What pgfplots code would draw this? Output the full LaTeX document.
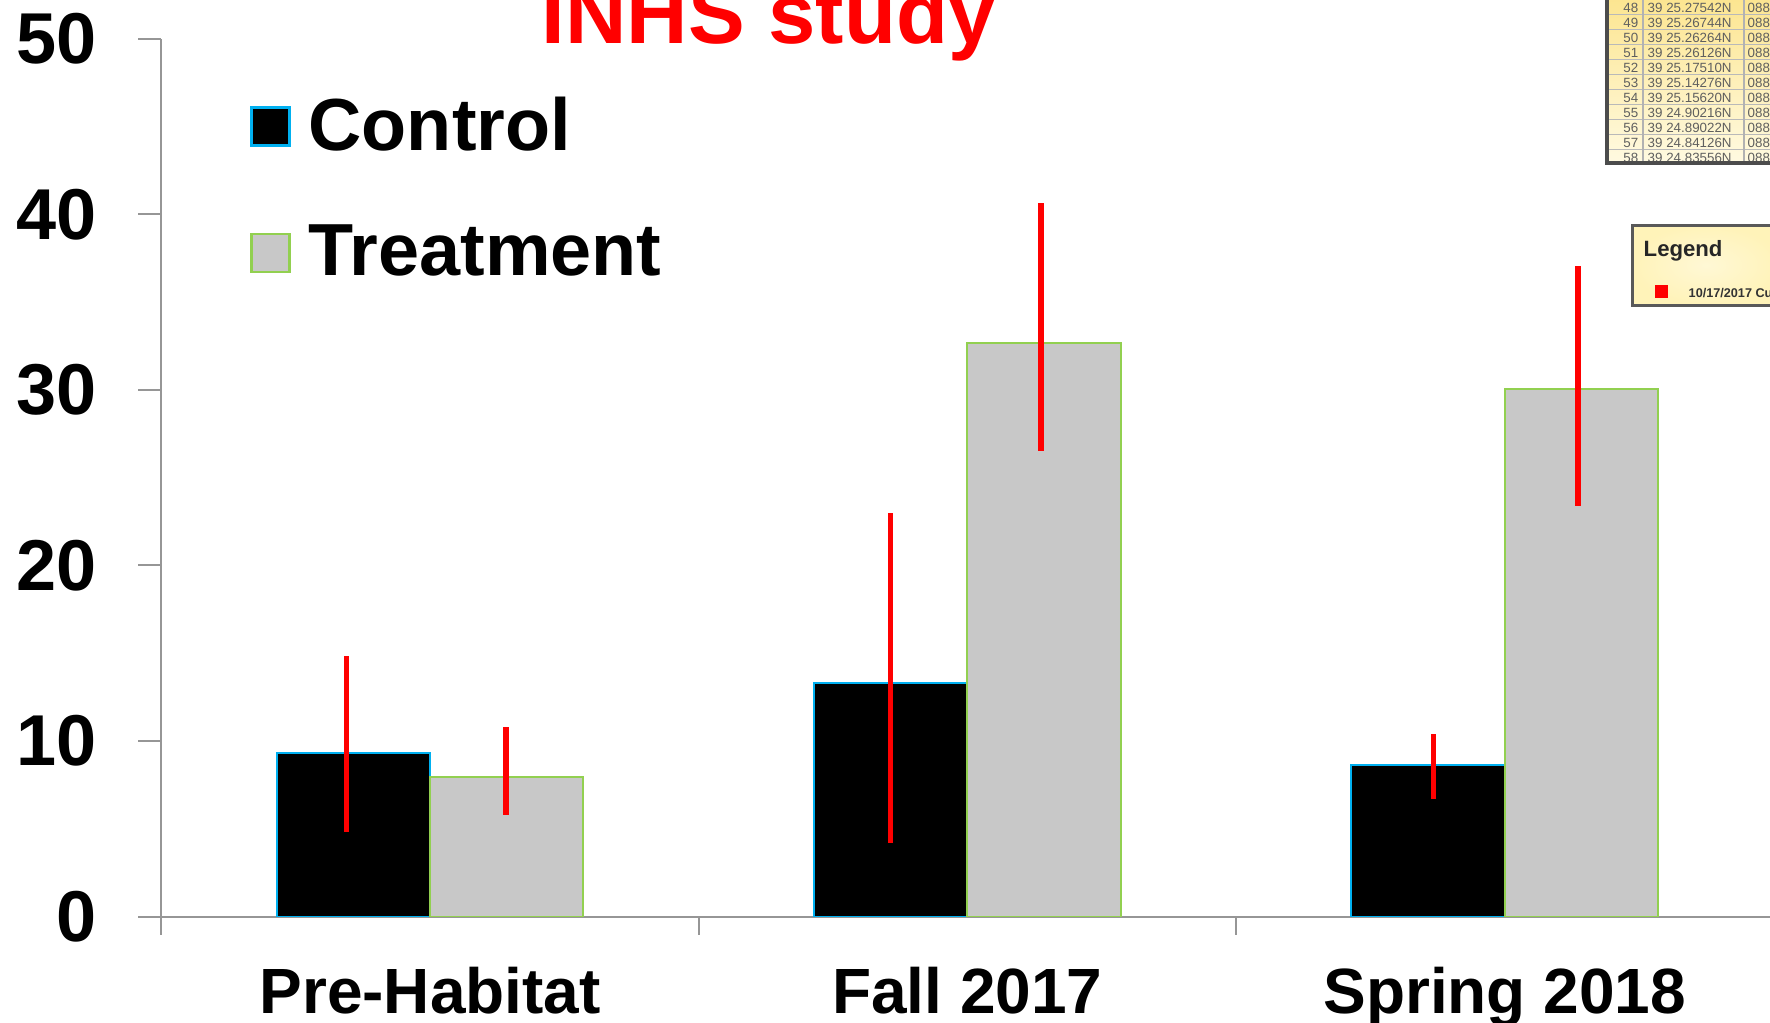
\documentclass[border=0pt]{standalone}
\usepackage{fontspec}
\setmainfont{Liberation Sans}
\usepackage{pgfplots}
\pgfplotsset{compat=1.18}
\definecolor{ctrlborder}{RGB}{0,176,240}
\definecolor{trtfill}{RGB}{200,200,200}
\definecolor{trtborder}{RGB}{146,208,80}
\definecolor{axgray}{RGB}{150,150,150}
\definecolor{errred}{RGB}{255,0,0}
\definecolor{tabtxt}{RGB}{95,95,95}
\definecolor{tyel1}{RGB}{252,228,140}
\definecolor{tyel2}{RGB}{255,250,225}
\definecolor{lyel}{RGB}{255,243,185}
\begin{document}
\begin{tikzpicture}
\useasboundingbox (0,0) rectangle (177mm,-102.2mm);
\begin{axis}[
  at={(16.14mm,-91.66mm)}, anchor=south west,
  scale only axis, width=161.2mm, height=87.8mm,
  xmin=-0.5, xmax=2.5, ymin=0, ymax=50,
  axis x line=bottom, axis y line=left,
  axis line style={-, axgray, line width=0.2mm},
  tick style={axgray, line width=0.2mm},
  tick align=outside,
  ytick={0,10,...,50},
  major tick length=2.3mm,
  xtick={0,1,2},
  xticklabels={Pre-Habitat, Fall 2017, Spring 2018},
  major x tick style={draw=none},
  minor xtick={-0.5,0.5,1.5,2.5},
  minor tick length=1.8mm,
  /pgf/number format/assume math mode=true,
  yticklabel style={font=\bfseries\fontsize{20.5}{20.5}\selectfont, inner sep=0pt, xshift=-4.07mm},
  xticklabel style={font=\bfseries\fontsize{18.2}{18.2}\selectfont, anchor=base, inner sep=0pt, yshift=-7.4mm},
  legend style={at={(0.0546,0.934)}, anchor=north west, draw=none, fill=none,
    font=\bfseries\fontsize{21}{21}\selectfont, row sep=6.9mm, inner sep=0pt,
    nodes={inner sep=0pt},
    /tikz/every odd column/.append style={column sep=1.8mm}},
  legend cell align=left,
]
\addplot[ybar, bar width=0.2853, bar shift=-0.14265, fill=black, draw=ctrlborder, line width=0.2mm,
  /pgfplots/legend image code/.code={\draw[fill=black, draw=ctrlborder, line width=0.25mm] (0mm,-1.9mm) rectangle (3.8mm,1.9mm);}]
  coordinates {(0,9.30) (1,13.31) (2,8.62)};
\addlegendentry{Control}
\addplot[ybar, bar width=0.2853, bar shift=0.14265, fill=trtfill, draw=trtborder, line width=0.2mm,
  /pgfplots/legend image code/.code={\draw[fill=trtfill, draw=trtborder, line width=0.25mm] (0mm,-1.9mm) rectangle (3.8mm,1.9mm);}]
  coordinates {(0,7.97) (1,32.65) (2,30.02)};
\addlegendentry{Treatment}
% error bars (mean +upper -lower), drawn over the bars
\addplot[draw=none, mark=none, forget plot,
  error bars/.cd, y dir=both, y explicit, error mark=none,
  error bar style={draw=errred, line width=0.56mm}]
  coordinates {
  (-0.1555,9.30) += (0,5.54) -= (0,4.46)
  (0.8571,13.31) += (0,9.70) -= (0,9.13)
  (1.8676,8.62) += (0,1.80) -= (0,1.93)
  };
\addplot[draw=none, mark=none, forget plot,
  error bars/.cd, y dir=both, y explicit, error mark=none,
  error bar style={draw=errred, line width=0.56mm}]
  coordinates {
  (0.1408,7.97) += (0,2.81) -= (0,2.18)
  (1.1366,32.65) += (0,7.98) -= (0,6.16)
  (2.1366,30.02) += (0,7.01) -= (0,6.62)
  };
\end{axis}
% title
\node[anchor=base, text=errred, font=\bfseries\fontsize{24.2}{24.2}\selectfont, inner sep=0pt] at (76.87mm,-4.33mm) {INHS study};
% inset table (top right)
\shade[top color=tyel1, bottom color=tyel2] (160.7mm,1mm) rectangle (178mm,-16.3mm);
\foreach \i in {0,...,9} {\draw[gray!55, line width=0.1mm] (160.7mm,{-(1.45+1.5*\i)*1mm}) -- (178mm,{-(1.45+1.5*\i)*1mm});}
\draw[gray!60, line width=0.12mm] (164.3mm,1mm) -- (164.3mm,-16.3mm);
\draw[gray!60, line width=0.12mm] (174.4mm,1mm) -- (174.4mm,-16.3mm);
\foreach \i/\n/\c in {0/48/39 25.27542N, 1/49/39 25.26744N, 2/50/39 25.26264N, 3/51/39 25.26126N,
  4/52/39 25.17510N, 5/53/39 25.14276N, 6/54/39 25.15620N, 7/55/39 24.90216N,
  8/56/39 24.89022N, 9/57/39 24.84126N, 10/58/39 24.83556N} {
  \node[anchor=east, inner sep=0pt, text=tabtxt, font=\fontsize{3.8}{3.8}\selectfont] at (163.9mm,{-(0.75+1.5*\i)*1mm}) {\n};
  \node[anchor=west, inner sep=0pt, text=tabtxt, font=\fontsize{3.8}{3.8}\selectfont] at (164.7mm,{-(0.75+1.5*\i)*1mm}) {\c};
  \node[anchor=west, inner sep=0pt, text=tabtxt, font=\fontsize{3.8}{3.8}\selectfont] at (174.7mm,{-(0.75+1.5*\i)*1mm}) {088 4};
}
\draw[black!70, line width=0.35mm] (160.7mm,1mm) -- (160.7mm,-16.3mm) -- (178mm,-16.3mm);
% inset map legend
\shade[inner color=lyel!60!white, outer color=lyel] (163.2mm,-22.5mm) rectangle (178mm,-30.5mm);
\draw[black!65, line width=0.3mm] (178mm,-22.5mm) -- (163.2mm,-22.5mm) -- (163.2mm,-30.5mm) -- (178mm,-30.5mm);
\node[anchor=base west, inner sep=0pt, font=\bfseries\fontsize{6.3}{6.3}\selectfont, text=black!85] at (164.3mm,-25.7mm) {Legend};
\fill[errred] (165.5mm,-28.5mm) rectangle (166.8mm,-29.8mm);
\node[anchor=base west, inner sep=0pt, font=\bfseries\fontsize{3.6}{3.6}\selectfont, text=black!80] at (168.8mm,-29.75mm) {10/17/2017 Cumulative};
\end{tikzpicture}
\end{document}
